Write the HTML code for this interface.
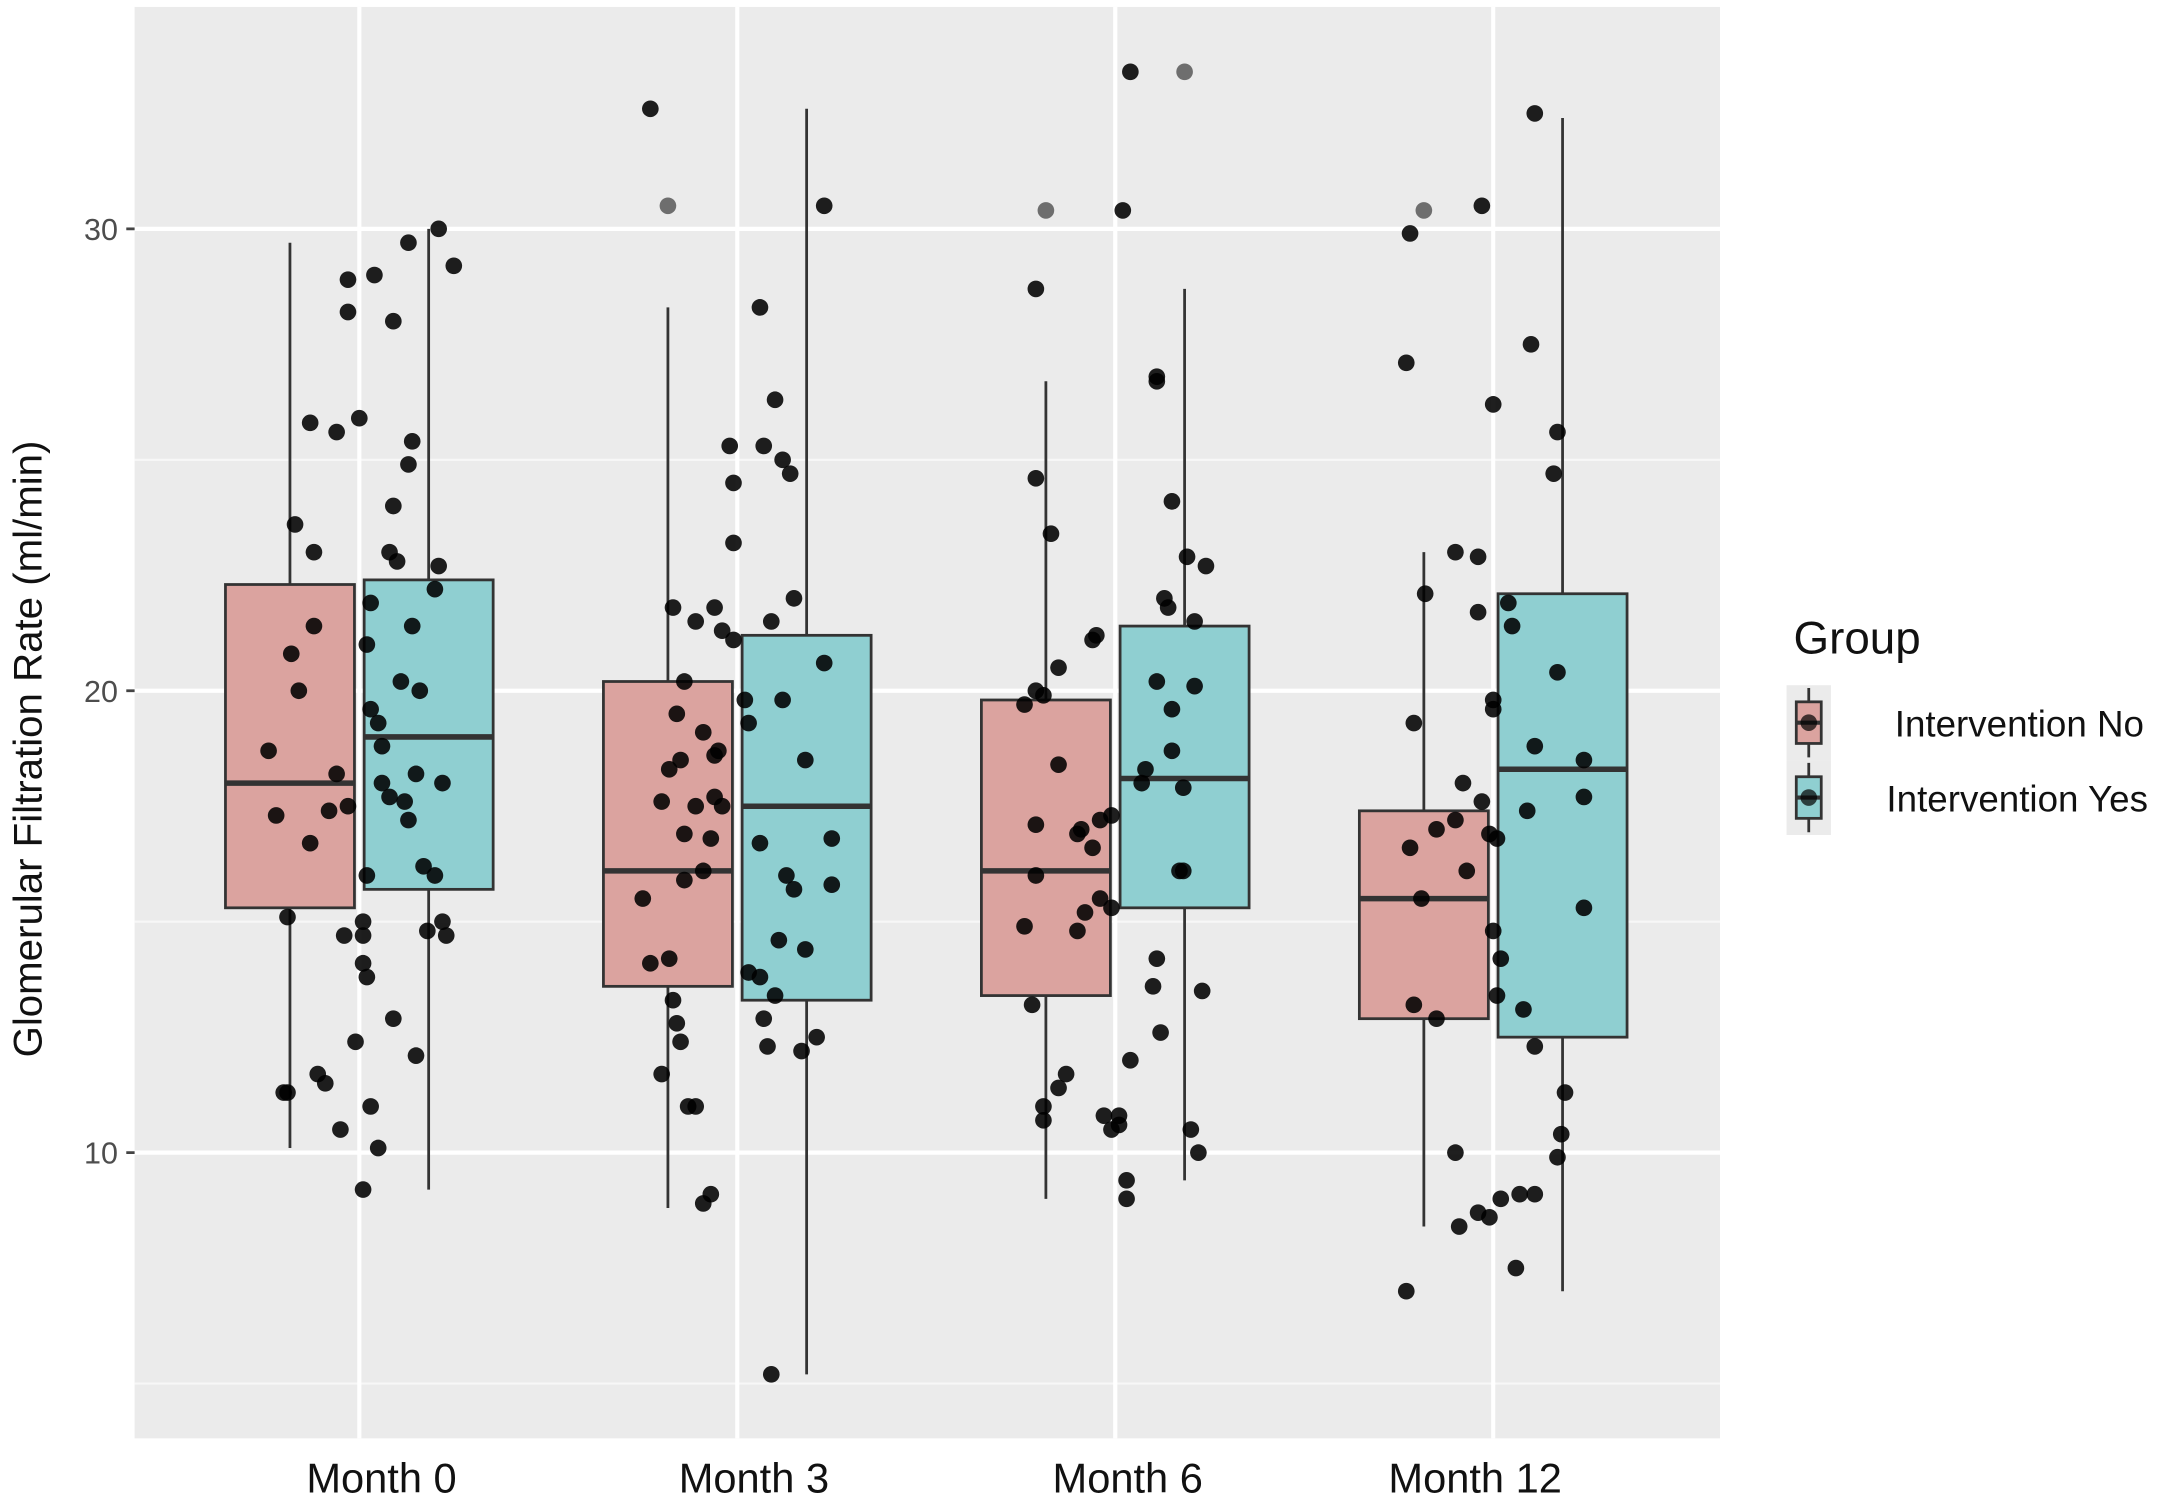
<!DOCTYPE html>
<html><head><meta charset="utf-8"><style>
html,body{margin:0;padding:0;background:#fff;}
svg{display:block;font-family:"Liberation Sans",Arial,sans-serif;}
</style></head><body>
<svg id="chart" width="2175" height="1498" viewBox="0 0 1568 1080" xmlns="http://www.w3.org/2000/svg">
<rect x="0" y="0" width="1568" height="1080" fill="#fff"/>
<g id="plot"></g>
</svg>
<script>
const categories = ["Month 0","Month 3","Month 6","Month 12"];
const groups = ["Intervention No","Intervention  Yes"];
const yTicks = [10,20,30];
const yMinor = [5,15,25];
// box stats per category: [whiskerLow, q1, median, q3, whiskerHigh]
const boxNo = [[10.1,15.3,18.0,22.3,29.7],[8.8,13.6,16.1,20.2,28.3],[9.0,13.4,16.1,19.8,26.7],[8.4,12.9,15.5,17.4,23.0]];
const boxYes = [[9.2,15.7,19.0,22.4,30.0],[5.2,13.3,17.5,21.2,32.6],[9.4,15.3,18.1,21.4,28.7],[7.0,12.5,18.3,22.1,32.4]];
// outliers: [categoryIndex, groupIndex, value]
const outliers = [[1,0,30.5],[2,0,30.4],[2,1,33.4],[3,0,30.4]];
// jittered points: category index, jitter (fraction of band), value
const pointCat = [];
const pointJit = [];
const pointVal = [];
const m0 = [[-0.19,11.3],[-0.20,11.3],[-0.11,11.7],[-0.09,11.5],[-0.05,10.5],[0.01,9.2],[0.05,10.1],[0.03,11.0],[-0.01,12.4],[0.09,12.9],[0.01,14.7],[0.01,14.1],[-0.04,14.7],[-0.19,15.1],[-0.22,17.3],[-0.24,18.7],[-0.16,20.0],[-0.18,20.8],[-0.12,21.4],[-0.13,16.7],[-0.06,18.2],[-0.08,17.4],[-0.03,17.5],[-0.17,23.6],[-0.12,23.0],[-0.13,25.8],[-0.06,25.6],[0.0,25.9],[-0.03,28.2],[-0.03,28.9],[0.04,29.0],[0.09,28.0],[0.13,29.7],[0.21,30.0],[0.25,29.2],[0.03,21.9],[0.02,21.0],[0.05,19.3],[0.03,19.6],[0.06,18.0],[0.08,17.7],[0.12,17.6],[0.15,18.2],[0.22,18.0],[0.13,17.2],[0.17,16.2],[0.2,16.0],[0.02,16.0],[0.06,18.8],[0.11,20.2],[0.16,20.0],[0.14,21.4],[0.2,22.2],[0.21,22.7],[0.08,23.0],[0.1,22.8],[0.13,24.9],[0.14,25.4],[0.09,24.0],[0.18,14.8],[0.22,15.0],[0.23,14.7],[0.15,12.1],[0.02,13.8],[0.01,15.0]];
const m3 = [[-0.23,32.6],[0.06,28.3],[0.1,26.3],[-0.02,25.3],[0.07,25.3],[0.12,25.0],[0.14,24.7],[-0.01,24.5],[-0.01,23.2],[-0.17,21.8],[-0.06,21.8],[-0.11,21.5],[-0.04,21.3],[-0.01,21.1],[0.09,21.5],[0.15,22.0],[-0.14,20.2],[-0.16,19.5],[-0.09,19.1],[-0.06,18.6],[-0.05,18.7],[-0.15,18.5],[-0.18,18.3],[-0.2,17.6],[-0.11,17.5],[-0.04,17.5],[-0.06,17.7],[-0.07,16.8],[-0.14,16.9],[-0.25,15.5],[-0.14,15.9],[-0.09,16.1],[0.03,19.3],[0.02,19.8],[0.12,19.8],[0.23,20.6],[0.18,18.5],[0.06,16.7],[0.13,16.0],[0.15,15.7],[0.25,15.8],[0.25,16.8],[0.03,13.9],[0.11,14.6],[0.18,14.4],[-0.18,14.2],[-0.23,14.1],[0.06,13.8],[0.1,13.4],[-0.17,13.3],[-0.16,12.8],[-0.15,12.4],[-0.2,11.7],[-0.13,11.0],[-0.11,11.0],[0.07,12.9],[0.08,12.3],[0.21,12.5],[0.17,12.2],[-0.07,9.1],[-0.09,8.9],[0.09,5.2],[0.23,30.5]];
const m6 = [[0.04,33.4],[0.02,30.4],[-0.21,28.7],[0.11,26.8],[0.11,26.7],[-0.21,24.6],[-0.17,23.4],[0.15,24.1],[0.13,22.0],[0.14,21.8],[0.19,22.9],[0.24,22.7],[0.21,21.5],[-0.05,21.2],[-0.06,21.1],[-0.15,20.5],[-0.21,20.0],[-0.19,19.9],[-0.24,19.7],[0.11,20.2],[0.21,20.1],[0.15,19.6],[0.15,18.7],[0.08,18.3],[0.07,18.0],[0.18,17.9],[-0.15,18.4],[-0.21,17.1],[-0.09,17.0],[-0.06,16.6],[-0.1,16.9],[-0.04,17.2],[-0.01,17.3],[-0.21,16.0],[-0.04,15.5],[-0.08,15.2],[-0.1,14.8],[-0.24,14.9],[-0.01,15.3],[0.17,16.1],[0.18,16.1],[0.11,14.2],[0.1,13.6],[0.23,13.5],[-0.22,13.2],[0.12,12.6],[-0.13,11.7],[-0.15,11.4],[-0.19,11.0],[-0.19,10.7],[0.04,12.0],[-0.03,10.8],[0.01,10.8],[-0.01,10.5],[0.01,10.6],[0.03,9.4],[0.03,9.0],[0.2,10.5],[0.22,10.0]];
const m12 = [[0.11,32.5],[-0.03,30.5],[-0.22,29.9],[-0.23,27.1],[0.1,27.5],[0.0,26.2],[0.17,25.6],[0.16,24.7],[-0.1,23.0],[-0.04,22.9],[-0.18,22.1],[-0.04,21.7],[0.04,21.9],[0.05,21.4],[0.0,19.8],[0.0,19.6],[0.17,20.4],[-0.21,19.3],[0.11,18.8],[0.24,18.5],[-0.03,17.6],[-0.08,18.0],[-0.01,16.9],[0.09,17.4],[0.01,16.8],[-0.1,17.2],[-0.15,17.0],[-0.22,16.6],[-0.07,16.1],[-0.19,15.5],[0.24,17.7],[0.24,15.3],[0.0,14.8],[0.02,14.2],[-0.21,13.2],[-0.15,12.9],[0.08,13.1],[0.01,13.4],[0.11,12.3],[0.19,11.3],[0.18,10.4],[0.17,9.9],[-0.1,10.0],[-0.09,8.4],[-0.04,8.7],[-0.01,8.6],[0.02,9.0],[0.07,9.1],[0.11,9.1],[0.06,7.5],[-0.23,7.0]];
[m0,m3,m6,m12].forEach((arr,ci)=>arr.forEach(p=>{pointCat.push(ci);pointJit.push(p[0]);pointVal.push(p[1]);}));

const NS="http://www.w3.org/2000/svg";
const P={x0:97,x1:1240,y0:5,y1:1037};
const y=v=>831-(v-10)*33.3;
const band=272.5;
const x=c=>259+c*band;
const dodge=50, bw=93;
const labelNudge=[16,12,9,-13];
const g=document.getElementById('plot');
function el(tag,attrs,parent){const e=document.createElementNS(NS,tag);for(const k in attrs)e.setAttribute(k,attrs[k]);(parent||g).appendChild(e);return e;}

let e=el('rect',{x:P.x0,y:P.y0,width:P.x1-P.x0,height:P.y1-P.y0,fill:'#ebebeb'});


yMinor.forEach(v=>{const l=el('line',{x1:P.x0,x2:P.x1,y1:y(v),y2:y(v),stroke:'#f7f7f7','stroke-width':1.5});

});
yTicks.forEach(v=>{const l=el('line',{x1:P.x0,x2:P.x1,y1:y(v),y2:y(v),stroke:'#fff','stroke-width':3});


const t=el('line',{x1:P.x0-6,x2:P.x0,y1:y(v),y2:y(v),stroke:'#444','stroke-width':2});


const tx=el('text',{x:P.x0-12,y:y(v)+8,'text-anchor':'end','font-size':22,fill:'#4d4d4d'});tx.textContent=v;

});
categories.forEach((c,i)=>{const l=el('line',{x1:x(i),x2:x(i),y1:P.y0,y2:P.y1,stroke:'#fff','stroke-width':3});


const tx=el('text',{x:x(i)+labelNudge[i],y:1076,'text-anchor':'middle','font-size':30,fill:'#111'});tx.textContent=c;

});

const fills=['#dba39f','#8fcfd1'];
[boxNo,boxYes].forEach((boxes,gi)=>boxes.forEach((b,ci)=>{
  const cx=x(ci)+(gi?dodge:-dodge);
  const w=el('line',{x1:cx,x2:cx,y1:y(b[0]),y2:y(b[4]),stroke:'#333','stroke-width':2});
  
  
  const r=el('rect',{x:cx-bw/2,y:y(b[3]),width:bw,height:y(b[1])-y(b[3]),fill:fills[gi],stroke:'#333','stroke-width':2});
  
  
  const m=el('line',{x1:cx-bw/2,x2:cx+bw/2,y1:y(b[2]),y2:y(b[2]),stroke:'#333','stroke-width':4});
  
  
}));
outliers.forEach(o=>{const cx=x(o[0])+(o[1]?dodge:-dodge);
  const c=el('circle',{cx:cx,cy:y(o[2]),r:6,fill:'#6e6e6e'});
  
  });
pointVal.forEach((v,i)=>{const c=el('circle',{cx:x(pointCat[i])+pointJit[i]*band,cy:y(v),r:6,fill:'#000','fill-opacity':0.88});
  
  });

const yt=el('text',{x:0,y:0,transform:'translate(30,540) rotate(-90)','text-anchor':'middle','font-size':29,fill:'#111'});
yt.textContent='Glomerular Filtration Rate (ml/min)';



const lg=el('g',{});


const lt=el('text',{x:1293,y:471,'font-size':33,fill:'#111'},lg);lt.textContent='Group';


groups.forEach((gname,i)=>{
  const ky=494+i*54;
  const kb=el('rect',{x:1288,y:ky,width:32,height:54,fill:'#ebebeb'},lg);
  
  
  el('line',{x1:1304,x2:1304,y1:ky+2,y2:ky+52,stroke:'#333','stroke-width':2},lg);
  const kr=el('rect',{x:1295,y:ky+12,width:18,height:30,fill:fills[i],stroke:'#333','stroke-width':2},lg);
  
  
  el('line',{x1:1295,x2:1313,y1:ky+27,y2:ky+27,stroke:'#333','stroke-width':3},lg);
  el('circle',{cx:1304,cy:ky+27,r:6,fill:'#000','fill-opacity':0.7},lg);
  const tx=el('text',{x:i?1360:1366,y:ky+37,'font-size':26.5,fill:'#111','xml:space':'preserve'},lg);
  tx.textContent=gname;
  
  
});
</script>
</body></html>
